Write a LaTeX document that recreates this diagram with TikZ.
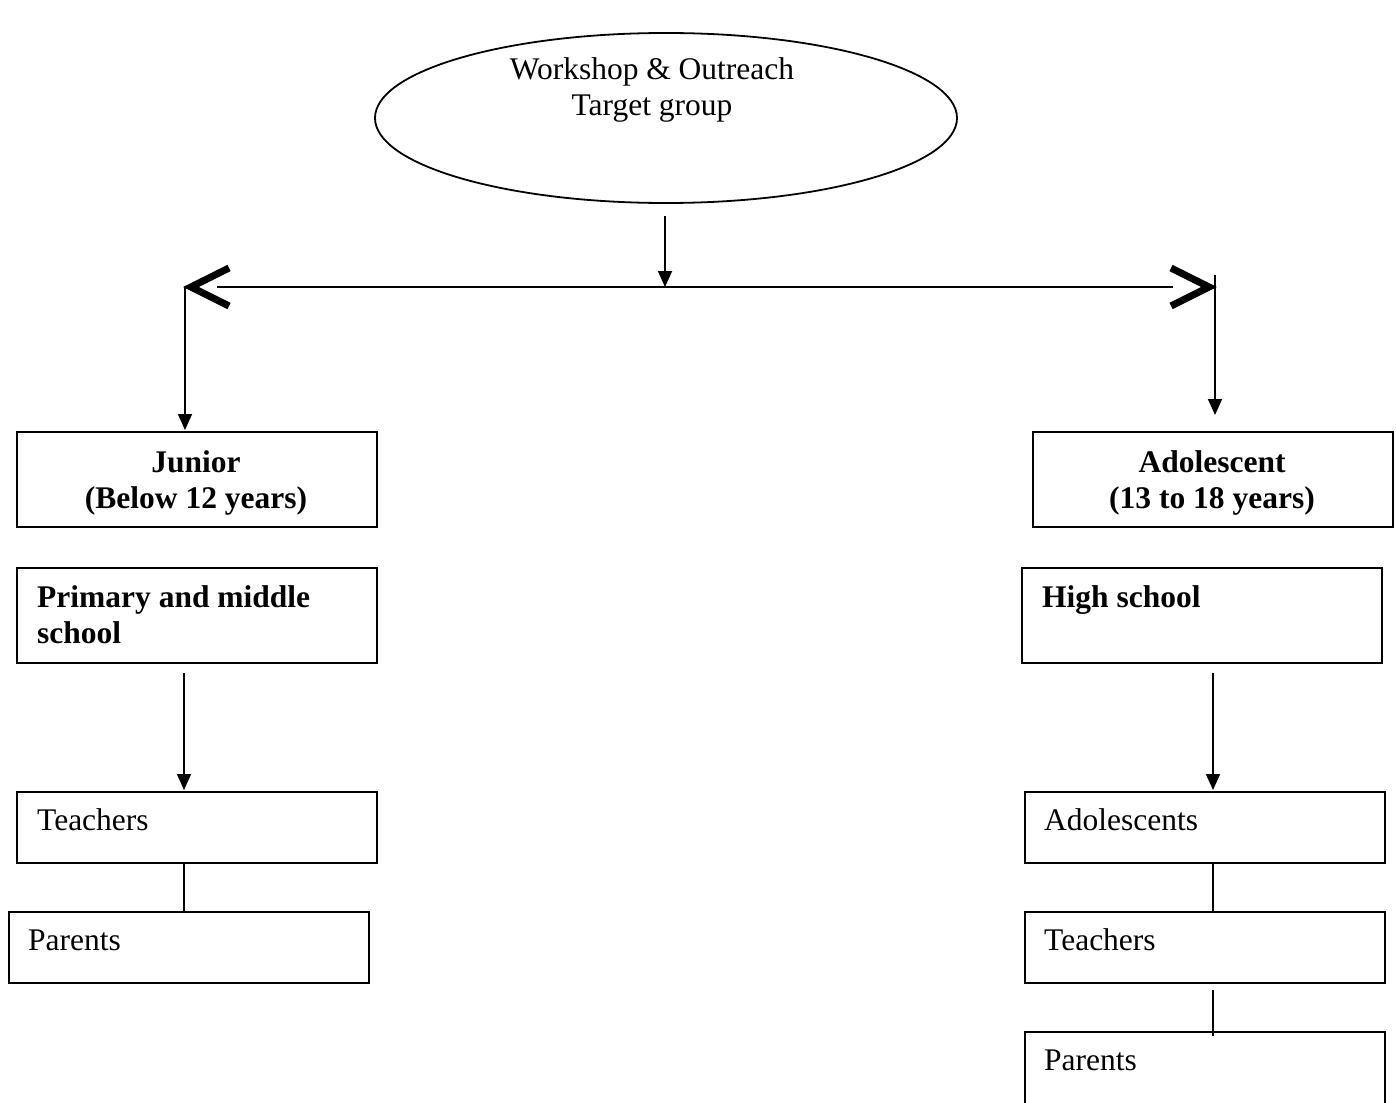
\documentclass[tikz,border=0pt]{standalone}
\usepackage{fontspec}
\setmainfont{Liberation Serif}
\usetikzlibrary{arrows.meta,shapes.geometric}

\tikzset{
  frame/.style={draw, line width=2.4pt, rectangle, anchor=north west, inner sep=0pt},
  txt/.style={anchor=base west, inner sep=0pt, font=\fontsize{31.5}{36}\selectfont},
  ctxt/.style={anchor=base, inner sep=0pt, font=\fontsize{31.5}{36}\selectfont},
  link/.style={line width=1.8pt},
  arr/.style={line width=1.8pt, -{Triangle[width=14pt,length=16pt]}},
  chev/.style={line width=7pt, line join=miter}
}

\begin{document}
\begin{tikzpicture}[x=1pt,y=-1pt]
\useasboundingbox (0,0) rectangle (1396,1102);
\fill[white] (0,0) rectangle (1396,1102);

% top ellipse
\node[draw, ellipse, line width=1.8pt, minimum width=582pt, minimum height=170pt, inner sep=0pt] (top) at (666,118) {};
\node[ctxt] (t1) at (652,80) {Workshop \& Outreach};
\node[ctxt] (t2) at (652,116) {Target group};

% branching bar
\coordinate (mid) at (665,287);
\coordinate (L) at (185,287);
\coordinate (R) at (1215,287);
\draw[arr] ([yshift=-12pt]top.south -| mid) -- (mid);
\draw[link] ([xshift=32pt]L) -- ([xshift=-42pt]R);
\draw[chev] ([shift={(44,-19)}]L) -- ([xshift=6pt]L) -- ([shift={(44,19)}]L);
\draw[chev] ([shift={(-44,-19)}]R) -- ([xshift=-6pt]R) -- ([shift={(-44,19)}]R);

% age group boxes
\node[frame, minimum width=360pt, minimum height=95pt] (jun) at (16,431) {};
\node[ctxt, font=\bfseries\fontsize{31.5}{36}\selectfont] (jun1) at (196,472) {Junior};
\node[ctxt, font=\bfseries\fontsize{31.5}{36}\selectfont] (jun2) at (196,508) {(Below 12 years)};

\node[frame, minimum width=360pt, minimum height=95pt] (ado) at (1032,431) {};
\node[ctxt, font=\bfseries\fontsize{31.5}{36}\selectfont] (ado1) at (1212,472) {Adolescent};
\node[ctxt, font=\bfseries\fontsize{31.5}{36}\selectfont] (ado2) at (1212,508) {(13 to 18 years)};

\draw[arr] (L) -- ([yshift=1pt]jun.north -| L);
\draw[arr] ([yshift=12pt]R) -- ([yshift=16pt]ado.north -| R);

% school boxes
\node[frame, minimum width=360pt, minimum height=95pt] (prim) at (16,567) {};
\node[txt, font=\bfseries\fontsize{31.5}{36}\selectfont] (prim1) at (37,607) {Primary and middle};
\node[txt, font=\bfseries\fontsize{31.5}{36}\selectfont] (prim2) at (37,643) {school};

\node[frame, minimum width=360pt, minimum height=95pt] (high) at (1021,567) {};
\node[txt, font=\bfseries\fontsize{31.5}{36}\selectfont] (high1) at (1042,607) {High school};

% audience boxes, left column
\coordinate (lx) at (184,0);
\coordinate (rx) at (1213,0);

\node[frame, minimum width=360pt, minimum height=71pt] (tchL) at (16,791) {};
\node[txt] (tchLt) at (37,830) {Teachers};
\node[frame, minimum width=360pt, minimum height=71pt] (parL) at (8,911) {};
\node[txt] (parLt) at (28,950) {Parents};

\draw[arr] ([yshift=-9pt]prim.south -| lx) -- ([yshift=1pt]tchL.north -| lx);
\draw[link] (tchL.south -| lx) -- (parL.north -| lx);

% audience boxes, right column
\node[frame, minimum width=360pt, minimum height=71pt] (adoR) at (1024,791) {};
\node[txt] (adoRt) at (1044,830) {Adolescents};
\node[frame, minimum width=360pt, minimum height=71pt] (tchR) at (1024,911) {};
\node[txt] (tchRt) at (1044,950) {Teachers};
\node[frame, minimum width=360pt, minimum height=76pt] (parR) at (1024,1031) {};
\node[txt] (parRt) at (1044,1070) {Parents};

\draw[arr] ([yshift=-9pt]high.south -| rx) -- ([yshift=1pt]adoR.north -| rx);
\draw[link] (adoR.south -| rx) -- (tchR.north -| rx);
\draw[link] ([yshift=-6pt]tchR.south -| rx) -- ([yshift=-5pt]parR.north -| rx);
\end{tikzpicture}
\end{document}
